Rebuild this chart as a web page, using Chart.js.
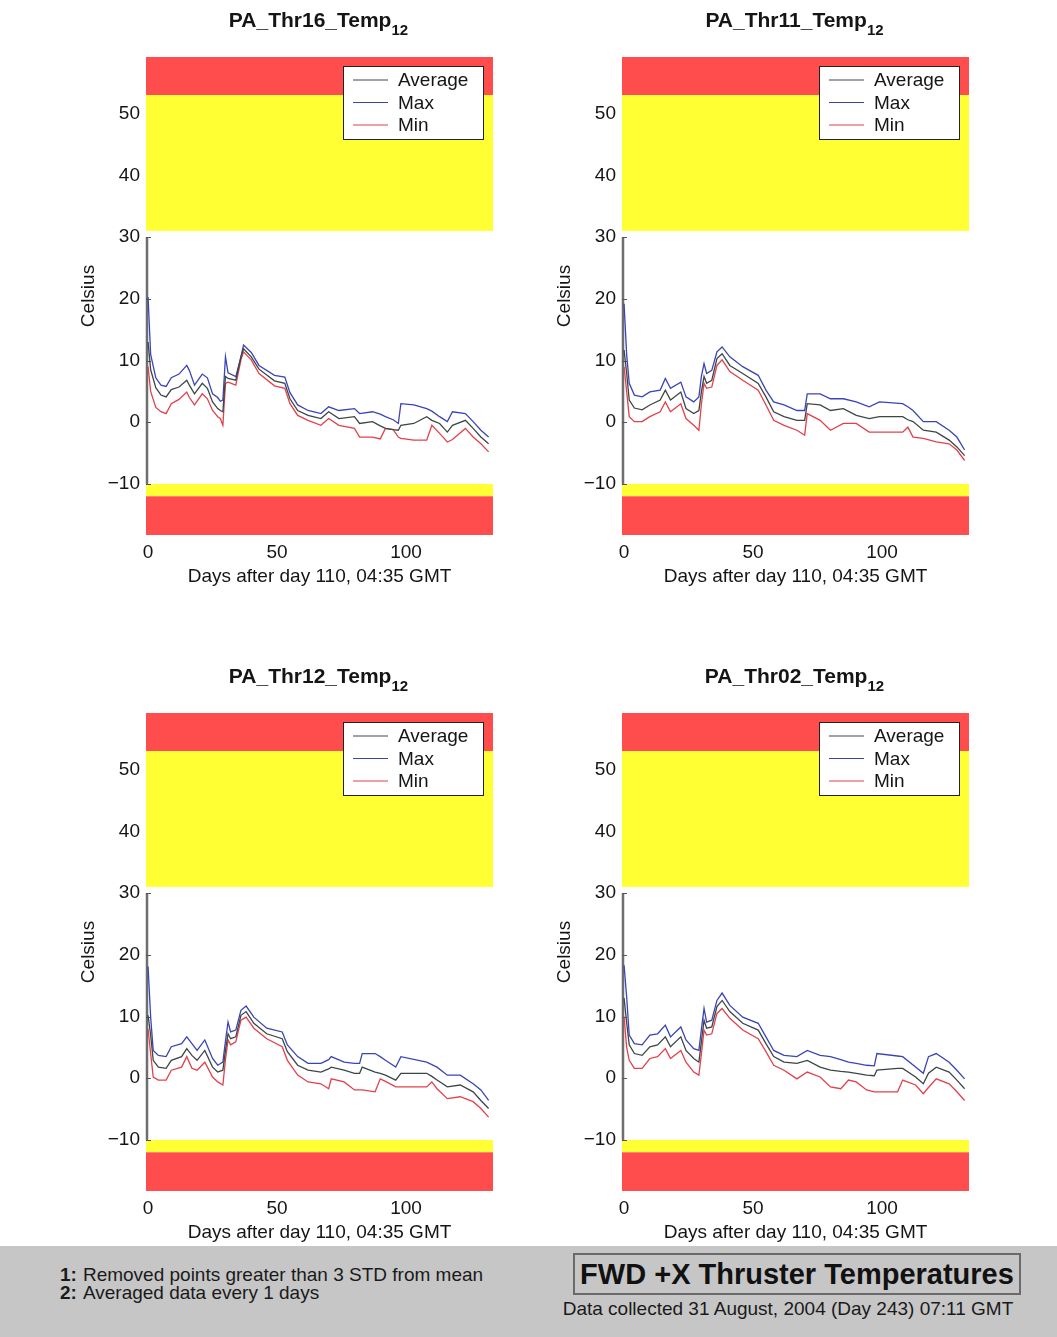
<!DOCTYPE html>
<html>
<head>
<meta charset="utf-8">
<script src="https://cdn.jsdelivr.net/npm/chart.js@4.4.1/dist/chart.umd.min.js"></script>
<style>
  html, body { margin: 0; padding: 0; background: #fff; }
  body { width: 1057px; height: 1337px; position: relative; overflow: hidden;
         font-family: "Liberation Sans", Arial, Helvetica, sans-serif; color: #111; }
  .panel { position: absolute; width: 528px; height: 600px; }
  .panel canvas { position: absolute; left: 0; top: 0; }
  .ptitle { position: absolute; left: 140px; width: 357px; top: 7px; text-align: center;
            font-weight: bold; font-size: 21px; line-height: 26px; color: #151515; white-space: nowrap; }
  .ptitle sub { font-size: 15px; vertical-align: -8px; line-height: 0; }
  .footer { position: absolute; left: 0; top: 1246px; width: 1057px; height: 91px; background: #c6c6c6; }
  .notes { position: absolute; left: 60px; top: 20px; font-size: 19px; line-height: 18px; color: #1a1a1a; }
  .notes b { margin-right: 6px; }
  .stamp { position: absolute; left: 573px; top: 7px; width: 444px; height: 38px; border: 2px solid #6a6a6a;
           text-align: center; font-weight: bold; font-size: 29px; line-height: 38px; color: #111; }
  .collected { position: absolute; left: 538px; width: 500px; top: 52px; text-align: center;
               font-size: 19px; line-height: 22px; color: #1a1a1a; }
</style>
</head>
<body>

<div class="panel" style="left:0;top:0"><canvas id="c16" width="528" height="600"></canvas>
  <div class="ptitle">PA_Thr16_Temp<sub>12</sub></div></div>
<div class="panel" style="left:476px;top:0"><canvas id="c11" width="528" height="600"></canvas>
  <div class="ptitle">PA_Thr11_Temp<sub>12</sub></div></div>
<div class="panel" style="left:0;top:656px"><canvas id="c12" width="528" height="600"></canvas>
  <div class="ptitle">PA_Thr12_Temp<sub>12</sub></div></div>
<div class="panel" style="left:476px;top:656px"><canvas id="c02" width="528" height="600"></canvas>
  <div class="ptitle">PA_Thr02_Temp<sub>12</sub></div></div>

<div class="footer">
  <div class="notes"><b>1:</b>Removed points greater than 3 STD from mean<br><b>2:</b>Averaged data every 1 days</div>
  <div class="stamp">FWD +X Thruster Temperatures</div>
  <div class="collected">Data collected 31 August, 2004 (Day 243) 07:11 GMT</div>
</div>

<script>
// ---- daily-averaged thruster temperatures (Celsius) ----
const thr16Days = [0,1,3,5,7,9,12,15,16,18,21,23,25,27,28,29,30,31,34,36,37,40,43,49,53,55,58,62,67,70,74,80,82,87,90,92,95,97,98,103,108,110,113,116,118,123,126,129,132];
const thr16Avg = [13.0,8.5,5.6,4.4,4.1,5.3,5.7,6.8,6.0,4.6,6.3,5.5,3.3,2.2,1.9,1.7,7.4,7.1,6.8,10.6,11.9,10.6,8.6,6.7,6.3,3.8,1.9,1.1,0.6,1.7,0.6,0.9,-0.2,0.1,-0.6,-1.0,-1.2,-1.3,-0.5,-0.2,0.9,0.3,-0.2,-1.6,-0.5,0.3,-1.0,-2.4,-3.5];
const thr16Max = [20.3,11.0,7.2,6.0,5.8,7.2,7.8,9.2,8.4,6.0,7.8,7.2,4.6,4.0,3.4,3.6,10.6,8.0,7.4,10.6,12.5,11.3,9.2,7.6,7.3,4.8,2.8,1.9,1.4,2.5,1.9,2.2,1.4,1.7,1.3,0.9,0.4,-0.2,3.0,2.8,2.2,1.8,0.9,0.1,1.7,1.4,0.1,-1.3,-2.4];
const thr16Min = [9.0,5.0,2.4,1.7,1.4,3.0,3.7,4.9,4.0,2.8,4.6,3.8,1.9,0.9,0.6,-0.5,6.3,6.5,6.0,10.1,11.4,10.1,7.9,5.9,5.5,3.0,1.1,0.3,-0.5,0.6,-0.5,-1.0,-2.4,-2.4,-2.7,-1.0,-1.2,-2.4,-2.6,-2.9,-2.9,-0.5,-1.8,-3.2,-2.8,-1.0,-2.4,-3.5,-4.8];

const thr11Days = [0,1,2,4,7,10,14,16,18,22,24,27,29,30,31,32,34,36,38,41,46,52,55,58,62,67,70,71,76,80,85,90,95,99,108,110,112,116,121,126,129,132];
const thr11Avg = [11.7,8.0,3.6,2.3,2.0,2.8,3.6,5.2,3.6,4.9,2.2,1.4,1.9,5.0,7.4,6.3,6.8,10.3,11.1,9.2,7.9,6.3,4.1,1.7,0.9,0.3,0.3,3.0,2.8,1.9,2.2,1.1,0.6,0.9,0.9,0.4,0.1,-1.3,-1.6,-2.9,-4.0,-5.4];
const thr11Max = [19.2,11.0,6.3,4.4,4.1,4.9,5.2,7.1,5.5,6.5,4.1,3.3,4.1,7.5,9.5,7.9,8.4,11.4,12.2,10.6,9.0,7.6,5.2,3.3,2.8,1.9,1.9,4.6,4.6,3.8,3.8,3.3,2.5,3.3,3.0,2.5,1.9,0.1,0.1,-1.3,-2.4,-4.5];
const thr11Min = [9.0,5.0,0.9,0.1,0.1,0.9,1.7,3.3,1.7,3.0,0.6,-0.5,-1.3,3.0,6.3,5.5,5.7,9.2,10.1,8.2,6.8,5.2,2.8,0.3,-0.5,-1.3,-2.1,1.4,0.3,-1.3,-0.2,-0.2,-1.6,-1.6,-1.6,-0.8,-2.4,-2.6,-3.2,-3.5,-4.5,-6.2];

const thr12Days = [0,1,2,4,7,9,13,15,17,19,22,25,27,29,30,31,32,34,36,38,41,46,52,54,58,62,67,70,71,76,80,82,83,88,90,92,96,98,108,110,112,116,121,126,129,132];
const thr12Avg = [10.2,7.0,2.9,1.8,1.6,2.9,3.5,4.8,3.7,2.9,4.5,1.8,1.0,1.3,4.5,7.2,6.4,6.7,10.2,10.8,8.9,7.2,6.4,4.3,2.1,1.3,1.0,1.5,1.8,1.3,0.8,0.8,1.8,1.0,0.8,0.5,-0.3,0.8,0.8,0.3,-0.3,-1.4,-1.1,-2.2,-3.6,-4.9];
const thr12Max = [18.1,9.9,4.5,3.7,3.5,5.1,5.6,6.7,5.6,4.5,6.2,3.2,2.1,2.6,6.0,9.1,7.5,7.8,11.0,11.7,9.9,8.1,7.5,5.4,3.5,2.4,2.4,3.0,3.5,2.6,2.4,2.4,4.0,4.0,3.5,2.9,1.8,3.5,2.6,2.2,1.8,0.5,0.5,-0.9,-1.9,-3.6];
const thr12Min = [8.0,4.0,0.2,-0.3,-0.3,1.3,1.8,3.5,1.6,1.3,2.6,0.2,-0.6,-1.1,3.0,6.2,5.4,5.9,9.4,9.9,8.1,6.4,5.1,2.9,0.5,-0.6,-0.9,-1.7,-0.1,-0.6,-1.9,-1.9,-1.9,-2.2,-0.1,-0.5,-1.4,-1.4,-1.4,-0.6,-1.7,-3.3,-3.0,-3.8,-4.9,-6.3];

const thr02Days = [0,1,2,4,7,10,13,16,18,22,24,27,29,30,31,32,34,36,38,41,46,52,55,58,62,67,71,76,80,84,87,90,94,97,98,106,108,113,116,118,121,126,129,132];
const thr02Avg = [13.0,9.0,5.4,4.0,3.7,5.1,5.4,6.7,5.1,6.7,4.5,3.2,2.6,6.0,9.4,8.1,8.3,11.6,12.6,10.8,8.9,7.8,5.6,3.5,2.6,2.4,2.9,1.8,1.3,1.1,1.0,0.8,0.5,0.4,1.3,1.6,1.6,0.2,-0.9,0.8,1.8,1.0,-0.3,-1.7];
const thr02Max = [18.3,13.2,7.0,5.6,5.4,7.0,7.2,8.6,6.7,8.3,6.2,4.8,4.5,8.0,11.3,9.1,9.4,12.6,13.8,11.8,9.9,8.9,6.7,4.5,3.7,3.5,4.5,3.7,3.5,3.0,2.6,2.4,2.1,2.0,4.0,3.6,3.5,1.8,0.8,3.5,4.0,2.6,1.3,-0.1];
const thr02Min = [10.0,5.0,2.9,1.6,1.6,3.2,3.5,4.8,3.2,4.5,2.6,1.0,0.5,4.0,7.8,7.0,7.2,10.5,11.3,9.7,7.8,6.4,4.3,2.1,1.3,-0.1,1.0,0.2,-1.4,-1.7,-0.3,-0.6,-1.9,-2.2,-2.2,-2.2,-0.3,-1.1,-2.5,-1.5,-0.1,-0.9,-2.2,-3.6];

// ---- axes and limit bands ----
const xTicks = [0, 50, 100];
const yTicks = [-10, 0, 10, 20, 30, 40, 50];
const spineTicks = [-10, 0, 10, 20, 30];
const xRange = [-0.8, 133.7];
const yRange = [-18.27, 59.17];
const redHigh = 53, yellowHigh = 31, yellowLow = -10, redLow = -12;
const seriesLabels = ['Average', 'Max', 'Min'];
const seriesColors = ['#3c4646', '#3a44b8', '#e2404c'];
const xTitle = 'Days after day 110, 04:35 GMT';
const yTitle = 'Celsius';

const FONT = '"Liberation Sans", Arial, Helvetica, sans-serif';
const RED = '#ff4d4d', YELLOW = '#ffff33';

const limitBands = [
  { lo: redHigh, hi: yRange[1], color: RED },
  { lo: yellowHigh, hi: redHigh, color: YELLOW },
  { lo: redLow, hi: yellowLow, color: YELLOW },
  { lo: yRange[0], hi: redLow, color: RED }
];

// bands, partial y spine and an in-plot boxed legend
const panelDecor = {
  id: 'panelDecor',
  beforeDatasetsDraw(chart) {
    const { ctx, chartArea: a, scales: { y } } = chart;
    ctx.save();
    limitBands.forEach(b => {
      const top = y.getPixelForValue(b.hi), bot = y.getPixelForValue(b.lo);
      ctx.fillStyle = b.color;
      ctx.fillRect(a.left, top, a.right - a.left, bot - top);
    });
    const s0 = y.getPixelForValue(spineTicks[0]);
    const s1 = y.getPixelForValue(spineTicks[spineTicks.length - 1]);
    ctx.strokeStyle = '#6e6e6e';
    ctx.lineWidth = 2.5;
    ctx.beginPath(); ctx.moveTo(a.left + 1, s0); ctx.lineTo(a.left + 1, s1); ctx.stroke();
    ctx.lineWidth = 1;
    ctx.strokeStyle = '#555';
    spineTicks.forEach(v => {
      const py = Math.round(y.getPixelForValue(v)) + 0.5;
      ctx.beginPath(); ctx.moveTo(a.left, py); ctx.lineTo(a.left + 5, py); ctx.stroke();
    });
    ctx.restore();
  },
  afterDatasetsDraw(chart) {
    const { ctx, chartArea: a } = chart;
    const w = 141, h = 74;
    const left = a.right - 9 - w, top = a.top + 9;
    ctx.save();
    ctx.fillStyle = '#fff';
    ctx.fillRect(left, top, w, h);
    ctx.strokeStyle = '#222';
    ctx.lineWidth = 1;
    ctx.strokeRect(left + 0.5, top + 0.5, w - 1, h - 1);
    ctx.font = '19px ' + FONT;
    ctx.textBaseline = 'middle';
    ctx.fillStyle = '#151515';
    chart.data.datasets.forEach((ds, i) => {
      const cy = top + 14 + i * 22.5;
      ctx.strokeStyle = ds.borderColor;
      ctx.lineWidth = 1.2;
      ctx.beginPath(); ctx.moveTo(left + 10, cy); ctx.lineTo(left + 45, cy); ctx.stroke();
      ctx.fillText(ds.label, left + 55, cy + 1);
    });
    ctx.restore();
  }
};

function pairs(days, vals) { return days.map((d, i) => ({ x: d, y: vals[i] })); }

function drawPanel(id, days, avg, max, min) {
  const series = [avg, max, min];
  new Chart(document.getElementById(id), {
    type: 'line',
    data: {
      datasets: series.map((vals, i) => ({
        label: seriesLabels[i],
        data: pairs(days, vals),
        borderColor: seriesColors[i],
        borderWidth: 1.3,
        pointRadius: 0,
        tension: 0,
        fill: false
      }))
    },
    options: {
      responsive: false,
      animation: false,
      events: [],
      layout: { padding: { top: 57, right: 35, left: 0, bottom: 0 } },
      plugins: { legend: { display: false }, tooltip: { enabled: false } },
      scales: {
        x: {
          type: 'linear', min: xRange[0], max: xRange[1],
          grid: { display: false, drawTicks: false },
          border: { display: false },
          afterBuildTicks: s => { s.ticks = xTicks.map(v => ({ value: v })); },
          afterFit: s => { s.height = 65; },
          ticks: { padding: 6, autoSkip: false, maxRotation: 0, color: '#151515',
                   font: { size: 19, family: FONT } },
          title: { display: true, text: xTitle, color: '#151515',
                   font: { size: 19, family: FONT }, padding: { top: 0, bottom: 12 } }
        },
        y: {
          type: 'linear', min: yRange[0], max: yRange[1],
          grid: { display: false, drawTicks: false },
          border: { display: false },
          afterBuildTicks: s => { s.ticks = yTicks.map(v => ({ value: v })); },
          afterFit: s => { s.width = 146; },
          ticks: { padding: 6, color: '#151515', font: { size: 19, family: FONT },
                   callback: v => (v < 0 ? '\u2212' + Math.abs(v) : String(v)) },
          title: { display: true, text: yTitle, color: '#151515',
                   font: { size: 19, family: FONT }, padding: { top: 77, bottom: 0 } }
        }
      }
    },
    plugins: [panelDecor]
  });
}

drawPanel('c16', thr16Days, thr16Avg, thr16Max, thr16Min);
drawPanel('c11', thr11Days, thr11Avg, thr11Max, thr11Min);
drawPanel('c12', thr12Days, thr12Avg, thr12Max, thr12Min);
drawPanel('c02', thr02Days, thr02Avg, thr02Max, thr02Min);
</script>
</body>
</html>
